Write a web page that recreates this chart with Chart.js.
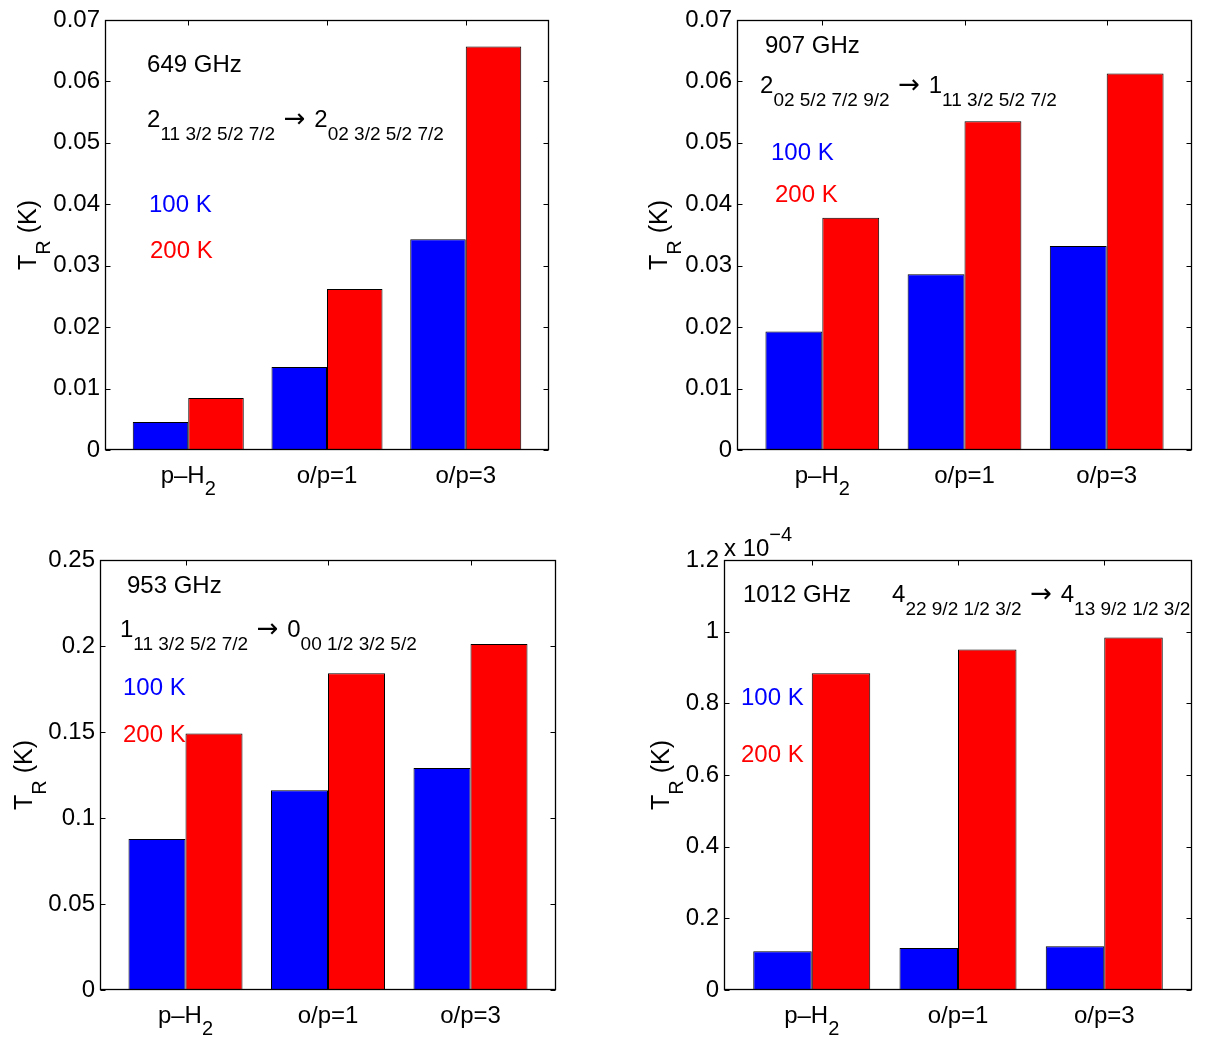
<!DOCTYPE html>
<html>
<head>
<meta charset="utf-8">
<script src="https://cdn.jsdelivr.net/npm/chart.js@4/dist/chart.umd.min.js"></script>
<style>
  body { margin: 0; background: #fff; }
  #wrap { position: relative; width: 1208px; height: 1038px; }
  canvas { position: absolute; }
</style>
</head>
<body>
<div id="wrap">
  <canvas id="c649" width="604" height="519" style="left:0;top:0"></canvas>
  <canvas id="c907" width="604" height="519" style="left:604px;top:0"></canvas>
  <canvas id="c953" width="604" height="519" style="left:0;top:519px"></canvas>
  <canvas id="c1012" width="604" height="519" style="left:604px;top:519px"></canvas>
</div>
<script>
// categories on the x axis (_ marks a subscript)
const categories = ['p\u2013H_2', 'o/p=1', 'o/p=3'];

// T_R (K)
const tr649_100K = [0.00456, 0.0135, 0.0343];
const tr649_200K = [0.00847, 0.0262, 0.0657];
const tr907_100K = [0.0193, 0.0286, 0.0332];
const tr907_200K = [0.0378, 0.0535, 0.0613];
const tr953_100K = [0.0878, 0.1161, 0.1291];
const tr953_200K = [0.1492, 0.1841, 0.2012];
// 1012 GHz panel is in units of 1e-4 K
const tr1012_100K = [0.108, 0.117, 0.122];
const tr1012_200K = [0.884, 0.950, 0.984];

// y tick values
const yTicks649 = [0, 0.01, 0.02, 0.03, 0.04, 0.05, 0.06, 0.07];
const yTicks907 = [0, 0.01, 0.02, 0.03, 0.04, 0.05, 0.06, 0.07];
const yTicks953 = [0, 0.05, 0.1, 0.15, 0.2, 0.25];
const yTicks1012 = [0, 0.2, 0.4, 0.6, 0.8, 1, 1.2];

const FONT = '"Liberation Sans", Arial, Helvetica, sans-serif';
const ARROW_FONT = '"DejaVu Sans", sans-serif';
const BLUE = '#0000ff', RED = '#ff0000';

function parseRich(s) {
  const parts = [];
  let buf = '', i = 0;
  const flush = () => { if (buf) { parts.push({ t: buf, k: 0 }); buf = ''; } };
  while (i < s.length) {
    const c = s[i];
    if (c === '_' || c === '^') {
      flush();
      let t;
      if (s[i + 1] === '{') { const j = s.indexOf('}', i); t = s.slice(i + 2, j); i = j + 1; }
      else { t = s[i + 1]; i += 2; }
      parts.push({ t, k: c === '_' ? 1 : -1 });
    } else if (c === '\u2192') {
      flush();
      parts.push({ t: c, k: 0, arrow: true });
      i++;
    } else { buf += c; i++; }
  }
  flush();
  return parts;
}

// draws text with sub/superscripts, x y = left (or centre) and baseline
function drawRich(ctx, s, x, y, o) {
  o = o || {};
  const size = o.size || 24, small = o.small || 19;
  const parts = parseRich(s);
  const fontOf = p => p.arrow ? Math.round(size * 1.1) + 'px ' + ARROW_FONT : (p.k ? small : size) + 'px ' + FONT;
  let w = 0;
  parts.forEach(p => {
    ctx.font = fontOf(p);
    p.w = ctx.measureText(p.t).width + (p.arrow ? 4 : 0);
    w += p.w;
  });
  let cx = o.align === 'center' ? x - w / 2 : x;
  ctx.fillStyle = o.color || '#000';
  ctx.textAlign = 'left';
  ctx.textBaseline = 'alphabetic';
  parts.forEach(p => {
    ctx.font = fontOf(p);
    const dy = p.k > 0 ? (o.subShift || 13) : p.k < 0 ? -(o.supShift || 14) : 0;
    ctx.fillText(p.t, cx + (p.arrow ? 2 : 0), y + dy);
    cx += p.w;
  });
}

const axesPlugin = {
  id: 'axesDeco',
  afterDraw(chart) {
    const { ctx, chartArea: a, scales } = chart;
    const x = scales.x, y = scales.y;
    const p = chart.options.plugins.axesDeco;
    ctx.save();
    ctx.strokeStyle = '#000';
    ctx.lineWidth = 1;
    const L = Math.round(a.left) + 0.5, R = Math.round(a.right) - 0.5;
    const T = Math.round(a.top) + 0.5, B = Math.round(a.bottom) - 0.5;
    ctx.beginPath();
    y.ticks.forEach(t => {
      const py = Math.round(y.getPixelForValue(t.value)) + 0.5;
      ctx.moveTo(L, py); ctx.lineTo(L + 5, py);
      ctx.moveTo(R, py); ctx.lineTo(R - 5, py);
    });
    x.ticks.forEach(t => {
      const px = Math.round(x.getPixelForValue(t.value)) + 0.5;
      ctx.moveTo(px, T); ctx.lineTo(px, T + 5);
    });
    ctx.stroke();
    ctx.lineWidth = 1.3;
    ctx.strokeRect(L, T, R - L, B - T);

    // category labels
    categories.forEach((c, i) => {
      drawRich(ctx, c, x.getPixelForValue(i + 1), a.bottom + 33, { align: 'center', size: 24, small: 20, subShift: 12 });
    });

    // y title
    ctx.save();
    ctx.translate(a.left - p.titleGap, (a.top + a.bottom) / 2);
    ctx.rotate(-Math.PI / 2);
    drawRich(ctx, 'T_R (K)', 0, 0, { align: 'center', size: 25, small: 20, subShift: 14 });
    ctx.restore();

    // annotations placed in data coordinates
    p.notes.forEach(n => {
      drawRich(ctx, n.text, x.getPixelForValue(n.x), y.getPixelForValue(n.y), { color: n.color, size: 24, small: 19 });
    });

    if (p.exponent) {
      drawRich(ctx, p.exponent, a.left, a.top - 4, { size: 24, small: 20, supShift: 15 });
    }
    ctx.restore();
  }
};

function makePanel(id, low, high, ticks, pad, deco) {
  new Chart(document.getElementById(id), {
    type: 'bar',
    data: {
      datasets: [
        { label: '100 K', data: low.map((v, i) => ({ x: i + 1, y: v })), backgroundColor: BLUE },
        { label: '200 K', data: high.map((v, i) => ({ x: i + 1, y: v })), backgroundColor: RED }
      ]
    },
    options: {
      responsive: false,
      animation: false,
      devicePixelRatio: 1,
      layout: { padding: { top: pad.top, right: pad.right, left: 0, bottom: 0 } },
      datasets: {
        bar: { categoryPercentage: 0.8, barPercentage: 1, borderWidth: 1, borderColor: '#000', borderSkipped: false }
      },
      plugins: { legend: { display: false }, tooltip: { enabled: false }, axesDeco: deco },
      scales: {
        x: {
          type: 'linear', min: 0.4, max: 3.6, offset: false,
          grid: { display: false, offset: false }, border: { display: false },
          ticks: { display: false },
          afterBuildTicks: s => { s.ticks = categories.map((c, i) => ({ value: i + 1 })); },
          afterFit: s => { s.height = pad.bottom; }
        },
        y: {
          min: ticks[0], max: ticks[ticks.length - 1],
          grid: { display: false, drawTicks: false }, border: { display: false },
          ticks: { color: '#000', padding: 5, font: { family: FONT, size: 24 }, callback: v => String(v) },
          afterBuildTicks: s => { s.ticks = ticks.map(v => ({ value: v })); },
          afterFit: s => { s.width = pad.left; }
        }
      }
    },
    plugins: [axesPlugin]
  });
}

makePanel('c649', tr649_100K, tr649_200K, yTicks649,
  { left: 105, right: 55, top: 20, bottom: 69 },
  { titleGap: 69, notes: [
    { text: '649 GHz', x: 0.703, y: 0.0615 },
    { text: '2_{11 3/2 5/2 7/2} \u2192 2_{02 3/2 5/2 7/2}', x: 0.703, y: 0.0526 },
    { text: '100 K', x: 0.717, y: 0.0387, color: BLUE },
    { text: '200 K', x: 0.724, y: 0.0313, color: RED }
  ] });

makePanel('c907', tr907_100K, tr907_200K, yTicks907,
  { left: 133, right: 16, top: 20, bottom: 69 },
  { titleGap: 70, notes: [
    { text: '907 GHz', x: 0.597, y: 0.0646 },
    { text: '2_{02 5/2 7/2 9/2} \u2192 1_{11 3/2 5/2 7/2}', x: 0.562, y: 0.0581 },
    { text: '100 K', x: 0.639, y: 0.0472, color: BLUE },
    { text: '200 K', x: 0.667, y: 0.0404, color: RED }
  ] });

makePanel('c953', tr953_100K, tr953_200K, yTicks953,
  { left: 100, right: 48, top: 41, bottom: 48 },
  { titleGap: 68, notes: [
    { text: '953 GHz', x: 0.589, y: 0.2308 },
    { text: '1_{11 3/2 5/2 7/2} \u2192 0_{00 1/2 3/2 5/2}', x: 0.540, y: 0.2052 },
    { text: '100 K', x: 0.561, y: 0.1715, color: BLUE },
    { text: '200 K', x: 0.561, y: 0.1442, color: RED }
  ] });

makePanel('c1012', tr1012_100K, tr1012_200K, yTicks1012,
  { left: 120, right: 16, top: 41, bottom: 48 },
  { titleGap: 55, exponent: 'x 10^{\u22124}', notes: [
    { text: '1012 GHz', x: 0.530, y: 1.083 },
    { text: '4_{22 9/2 1/2 3/2} \u2192 4_{13 9/2 1/2 3/2}', x: 1.549, y: 1.083 },
    { text: '100 K', x: 0.516, y: 0.795, color: BLUE },
    { text: '200 K', x: 0.516, y: 0.636, color: RED }
  ] });
</script>
</body>
</html>
